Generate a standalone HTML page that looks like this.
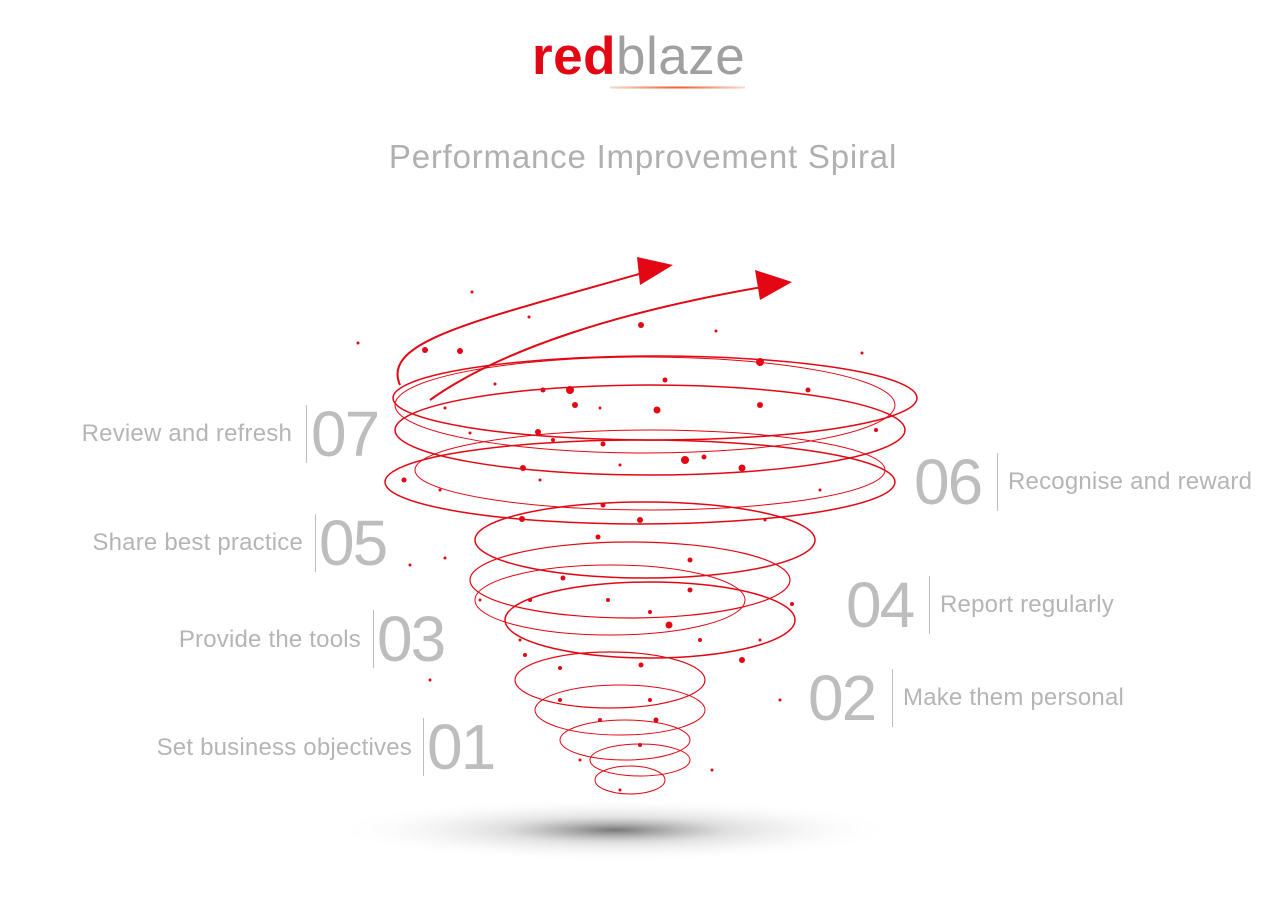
<!DOCTYPE html>
<html><head><meta charset="utf-8"><style>
body{margin:0;width:1280px;height:905px;background:#fff;position:relative;overflow:hidden;font-family:"Liberation Sans",sans-serif}
.t{position:absolute;color:#b5b5b5;font-size:24px;white-space:nowrap;letter-spacing:0.2px}
.n{position:absolute;color:#bdbdbd;font-size:64px;line-height:62px;letter-spacing:-2px}
.l{position:absolute;width:1px;height:58px;background:#bdbdbd}
</style></head><body>
<div style="position:absolute;left:532px;top:28px;font-size:53px;line-height:58px;letter-spacing:0.5px"><span style="color:#e30613;font-weight:bold">red</span><span style="color:#a0a0a0">blaze</span></div>
<div style="position:absolute;left:610px;top:86px;width:135px;height:3px;background:radial-gradient(ellipse at center,#e8501a 0%,rgba(232,80,26,0.4) 50%,rgba(255,255,255,0) 100%)"></div>
<div style="position:absolute;left:0;width:1286px;top:138px;text-align:center;font-size:33px;color:#b0b0b0;letter-spacing:0.8px">Performance Improvement Spiral</div>

<svg width="1280" height="905" style="position:absolute;left:0;top:0">
<defs><radialGradient id="sh"><stop offset="0" stop-color="#777"/><stop offset="0.4" stop-color="#ccc" stop-opacity="0.6"/><stop offset="1" stop-color="#fff" stop-opacity="0"/></radialGradient></defs>
<ellipse cx="615" cy="830" rx="285" ry="32" fill="url(#sh)"/>
<g fill="none" stroke="#e30613">
<path d="M400 385 C380 340 480 320 660 268" stroke-width="2"/>
<path d="M430 400 C500 350 620 310 780 284" stroke-width="2"/>
<ellipse cx="655" cy="398" rx="262" ry="42" stroke-width="1.5"/>
<ellipse cx="645" cy="405" rx="250" ry="48" stroke-width="1"/>
<ellipse cx="650" cy="430" rx="255" ry="45" stroke-width="1.5"/>
<ellipse cx="640" cy="482" rx="255" ry="42" stroke-width="1.5"/>
<ellipse cx="650" cy="470" rx="235" ry="40" stroke-width="1"/>
<ellipse cx="645" cy="540" rx="170" ry="38" stroke-width="1.5"/>
<ellipse cx="630" cy="580" rx="160" ry="38" stroke-width="1.2"/>
<ellipse cx="650" cy="620" rx="145" ry="38" stroke-width="1.5"/>
<ellipse cx="610" cy="600" rx="135" ry="35" stroke-width="1"/>
<ellipse cx="610" cy="680" rx="95" ry="28" stroke-width="1.2"/>
<ellipse cx="620" cy="710" rx="85" ry="25" stroke-width="1"/>
<ellipse cx="625" cy="740" rx="65" ry="20" stroke-width="1"/>
<ellipse cx="630" cy="780" rx="35" ry="14" stroke-width="1"/>
<ellipse cx="640" cy="760" rx="50" ry="16" stroke-width="1"/>
</g>
<polygon points="637,257 673,265 640,285" fill="#e30613"/>
<polygon points="755,270 792,282 760,300" fill="#e30613"/>
<g fill="#e30613">
<circle cx="425" cy="350" r="3"/><circle cx="460" cy="351" r="3"/><circle cx="641" cy="325" r="3"/><circle cx="760" cy="362" r="4"/><circle cx="570" cy="390" r="4"/><circle cx="543" cy="390" r="2.5"/><circle cx="665" cy="380" r="2.5"/><circle cx="808" cy="390" r="2.5"/><circle cx="760" cy="405" r="3"/><circle cx="575" cy="405" r="3"/><circle cx="657" cy="410" r="3.5"/><circle cx="538" cy="432" r="3"/><circle cx="553" cy="440" r="2"/><circle cx="603" cy="444" r="2.5"/><circle cx="685" cy="460" r="4"/><circle cx="742" cy="468" r="3.5"/><circle cx="704" cy="457" r="2.5"/><circle cx="523" cy="468" r="3"/><circle cx="404" cy="480" r="2.5"/><circle cx="876" cy="430" r="2"/><circle cx="603" cy="505" r="2.5"/><circle cx="522" cy="519" r="3"/><circle cx="640" cy="520" r="3"/><circle cx="598" cy="537" r="2.5"/><circle cx="563" cy="578" r="2.5"/><circle cx="690" cy="590" r="2.5"/><circle cx="669" cy="625" r="3.5"/><circle cx="742" cy="660" r="3"/><circle cx="608" cy="600" r="2"/><circle cx="525" cy="655" r="2"/><circle cx="641" cy="665" r="2.5"/><circle cx="560" cy="668" r="2"/><circle cx="656" cy="720" r="2.5"/><circle cx="690" cy="560" r="2.5"/><circle cx="792" cy="604" r="2"/><circle cx="472" cy="292" r="1.5"/><circle cx="529" cy="317" r="1.5"/><circle cx="716" cy="331" r="1.5"/><circle cx="862" cy="353" r="1.5"/><circle cx="358" cy="343" r="1.5"/><circle cx="495" cy="384" r="1.5"/><circle cx="445" cy="408" r="1.5"/><circle cx="600" cy="408" r="1.5"/><circle cx="470" cy="433" r="1.5"/><circle cx="620" cy="465" r="1.5"/><circle cx="440" cy="490" r="1.5"/><circle cx="540" cy="480" r="1.5"/><circle cx="820" cy="490" r="1.5"/><circle cx="445" cy="558" r="1.5"/><circle cx="410" cy="565" r="1.5"/><circle cx="765" cy="520" r="1.5"/><circle cx="520" cy="640" r="1.5"/><circle cx="430" cy="680" r="1.5"/><circle cx="780" cy="700" r="1.5"/><circle cx="712" cy="770" r="1.5"/><circle cx="580" cy="760" r="1.5"/><circle cx="620" cy="790" r="1.5"/><circle cx="650" cy="700" r="2"/><circle cx="600" cy="720" r="2"/><circle cx="640" cy="745" r="2"/><circle cx="560" cy="700" r="2"/><circle cx="700" cy="640" r="2"/><circle cx="760" cy="640" r="1.5"/><circle cx="480" cy="600" r="1.5"/><circle cx="530" cy="600" r="2"/><circle cx="650" cy="612" r="2"/>
</g>
</svg>

<div class="t" style="right:988px;top:420px">Review and refresh</div><div class="l" style="left:306px;top:405px"></div><div class="n" style="left:311px;top:403px">07</div>
<div class="t" style="right:977px;top:529px">Share best practice</div><div class="l" style="left:315px;top:514px"></div><div class="n" style="left:319px;top:512px">05</div>
<div class="t" style="right:919px;top:626px">Provide the tools</div><div class="l" style="left:373px;top:610px"></div><div class="n" style="left:377px;top:608px">03</div>
<div class="t" style="right:868px;top:734px">Set business objectives</div><div class="l" style="left:423px;top:718px"></div><div class="n" style="left:427px;top:716px">01</div>
<div class="n" style="left:914px;top:451px">06</div><div class="l" style="left:997px;top:453px"></div><div class="t" style="left:1008px;top:468px">Recognise and reward</div>
<div class="n" style="left:846px;top:574px">04</div><div class="l" style="left:929px;top:576px"></div><div class="t" style="left:940px;top:591px">Report regularly</div>
<div class="n" style="left:808px;top:667px">02</div><div class="l" style="left:892px;top:669px"></div><div class="t" style="left:903px;top:684px">Make them personal</div>
</body></html>
